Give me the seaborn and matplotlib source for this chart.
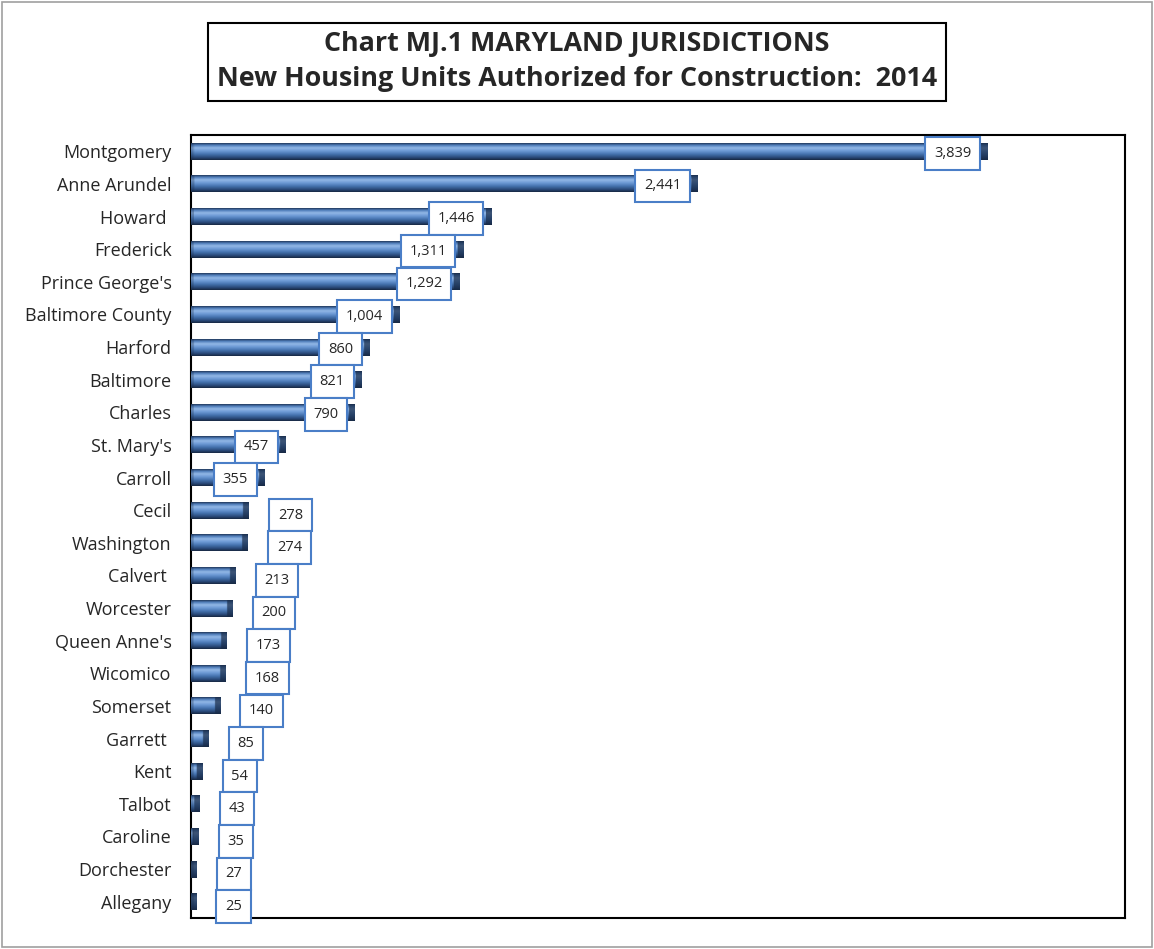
import numpy as np
import pandas as pd
import matplotlib
matplotlib.use("Agg")
import matplotlib.pyplot as plt
from matplotlib.colors import to_rgb
import seaborn as sns

jurisdictions = ["Montgomery", "Anne Arundel", "Howard ", "Frederick", "Prince George's",
                 "Baltimore County", "Harford", "Baltimore", "Charles", "St. Mary's",
                 "Carroll", "Cecil", "Washington", "Calvert ", "Worcester",
                 "Queen Anne's", "Wicomico", "Somerset", "Garrett ", "Kent",
                 "Talbot", "Caroline", "Dorchester", "Allegany"]
units = [3839, 2441, 1446, 1311, 1292, 1004, 860, 821, 790, 457,
         355, 278, 274, 213, 200, 173, 168, 140, 85, 54,
         43, 35, 27, 25]

title = "Chart MJ.1 MARYLAND JURISDICTIONS\nNew Housing Units Authorized for Construction:  2014"

df = pd.DataFrame({"jurisdiction": jurisdictions, "units": units})

sns.set_theme(style="white")
plt.rcParams["font.family"] = ["Open Sans", "DejaVu Sans"]

fig = plt.figure(figsize=(11.54, 9.49), dpi=100)
fig.patch.set_facecolor("white")
ax = fig.add_axes([0.1655, 0.0327, 0.8095, 0.825])

sns.barplot(data=df, x="units", y="jurisdiction", color="#4F81BD",
            width=0.52, ax=ax, orient="h", saturation=1)

ax.set_xlim(0, 4500)
ylim = ax.get_ylim()

# bevel gradient overlay on each bar
vcols = ["#22395C", "#4F7DBA", "#93B8E6", "#6E9BD6", "#4674B0", "#2A4A7A", "#172842"]
vstops = [0.0, 0.12, 0.28, 0.45, 0.65, 0.85, 1.0]
rows = 60
vc = np.array([to_rgb(c) for c in vcols])
ys = np.linspace(0, 1, rows)
vgrad = np.stack([np.interp(ys, vstops, vc[:, k]) for k in range(3)], axis=1)
cap_units = 28.0
dark = np.array(to_rgb("#182A46"))
for p in ax.patches:
    x0, y0 = p.get_x(), p.get_y()
    w, h = p.get_width(), p.get_height()
    if w <= 0:
        continue
    ncol = 300
    xs = np.linspace(x0, x0 + w, ncol)
    img = np.repeat(vgrad[:, None, :], ncol, axis=1).copy()
    endmask = xs > (x0 + w - cap_units)
    img[:, endmask, :] = img[:, endmask, :] * 0.3 + dark * 0.7
    startmask = xs < x0 + 12
    img[:, startmask, :] = img[:, startmask, :] * 0.7 + dark * 0.3
    ax.imshow(img, extent=(x0, x0 + w, y0, y0 + h), origin="lower",
              aspect="auto", interpolation="bilinear", zorder=3)

ax.set_xlim(0, 4500)
ax.set_ylim(ylim)

# value labels
for i, v in enumerate(units):
    txt = f"{v:,}"
    if v >= 300:
        ax.text(v - 80, i + 0.06, txt, ha="right", va="center", fontsize=10.5, zorder=5,
                bbox=dict(boxstyle="square,pad=0.6", fc="white", ec="#4A7EC7", lw=1.5))
    else:
        ax.text(v + 140, i + 0.15, txt, ha="left", va="center", fontsize=10.5, zorder=5,
                bbox=dict(boxstyle="square,pad=0.6", fc="white", ec="#4A7EC7", lw=1.5))

ax.set_xlabel("")
ax.set_ylabel("")
ax.set_xticks([])
ax.tick_params(axis="y", length=0, pad=14, labelsize=13)
for s in ax.spines.values():
    s.set_visible(True)
    s.set_color("black")
    s.set_linewidth(1.5)

fig.text(0.5, 0.935, title, ha="center", va="center", fontsize=19.4, fontweight="bold",
         linespacing=1.45,
         bbox=dict(boxstyle="square,pad=0.32", fc="white", ec="black", lw=1.5))

# outer frame
fig.patches.append(plt.Rectangle((0.002, 0.002), 0.996, 0.996, transform=fig.transFigure,
                                 fill=False, ec="#A0A0A0", lw=1.2))

fig.savefig("out.png", dpi=100)
